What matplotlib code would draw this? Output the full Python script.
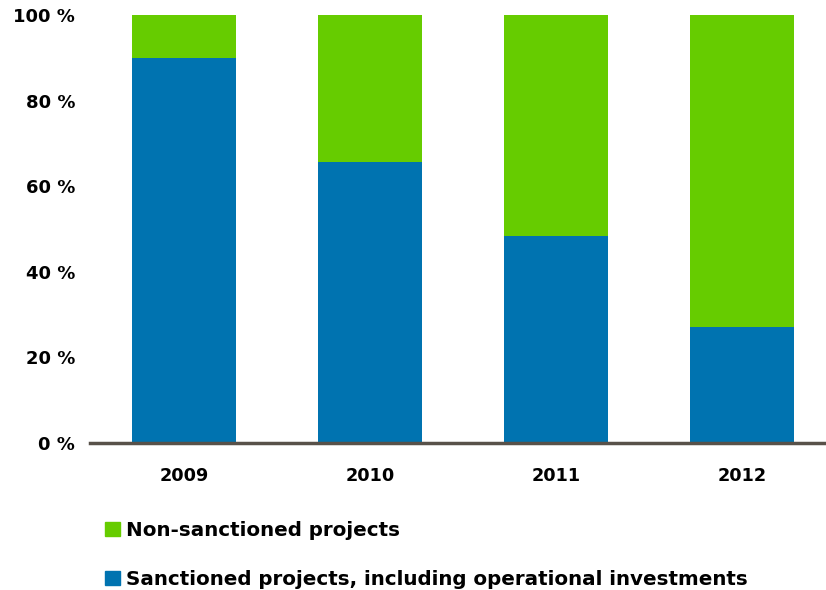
import matplotlib.pyplot as plt
from matplotlib.patches import Patch

plt.rcParams['font.family'] = ['DejaVu Sans']
plt.rcParams['font.weight'] = 'bold'

years = ['2009', '2010', '2011', '2012']
sanctioned = [90, 65.7, 48.4, 27.1]
non_sanctioned = [100 - v for v in sanctioned]
yticks = [0, 20, 40, 60, 80, 100]

blue = '#0073B0'
green = '#66CC00'

fig = plt.figure(figsize=(8.26, 5.90), dpi=100)
ax = fig.add_axes([90 / 826, 147 / 590, 736 / 826, 428 / 590])

x = range(len(years))
ax.bar(x, sanctioned, width=0.56, color=blue)
ax.bar(x, non_sanctioned, width=0.56, bottom=sanctioned, color=green)

ax.set_xlim(-0.505, 3.45)
ax.set_ylim(0, 100)
ax.set_xticks(list(x))
ax.set_xticklabels(years, fontsize=12.7, fontweight='bold')
ax.set_yticks(yticks)
ax.set_yticklabels([f'{t} %' for t in yticks], fontsize=13, fontweight='bold')
ax.tick_params(axis='both', length=0)
ax.tick_params(axis='x', pad=17)
ax.tick_params(axis='y', pad=10.8)

for side in ['left', 'right', 'top']:
    ax.spines[side].set_visible(False)
ax.spines['bottom'].set_color('#585149')
ax.spines['bottom'].set_linewidth(2.5)

handles = [Patch(color=green), Patch(color=blue)]
labels = ['Non-sanctioned projects',
          'Sanctioned projects, including operational investments']
fig.legend(handles, labels, loc='upper left', bbox_to_anchor=(105 / 826, 1 - 521 / 590),
           frameon=False, handlelength=0.75, handleheight=0.65,
           handletextpad=0.3, labelspacing=1.5, borderaxespad=0, borderpad=0,
           prop={'weight': 'bold', 'size': 14.35})

fig.savefig('out.png', dpi=100)
